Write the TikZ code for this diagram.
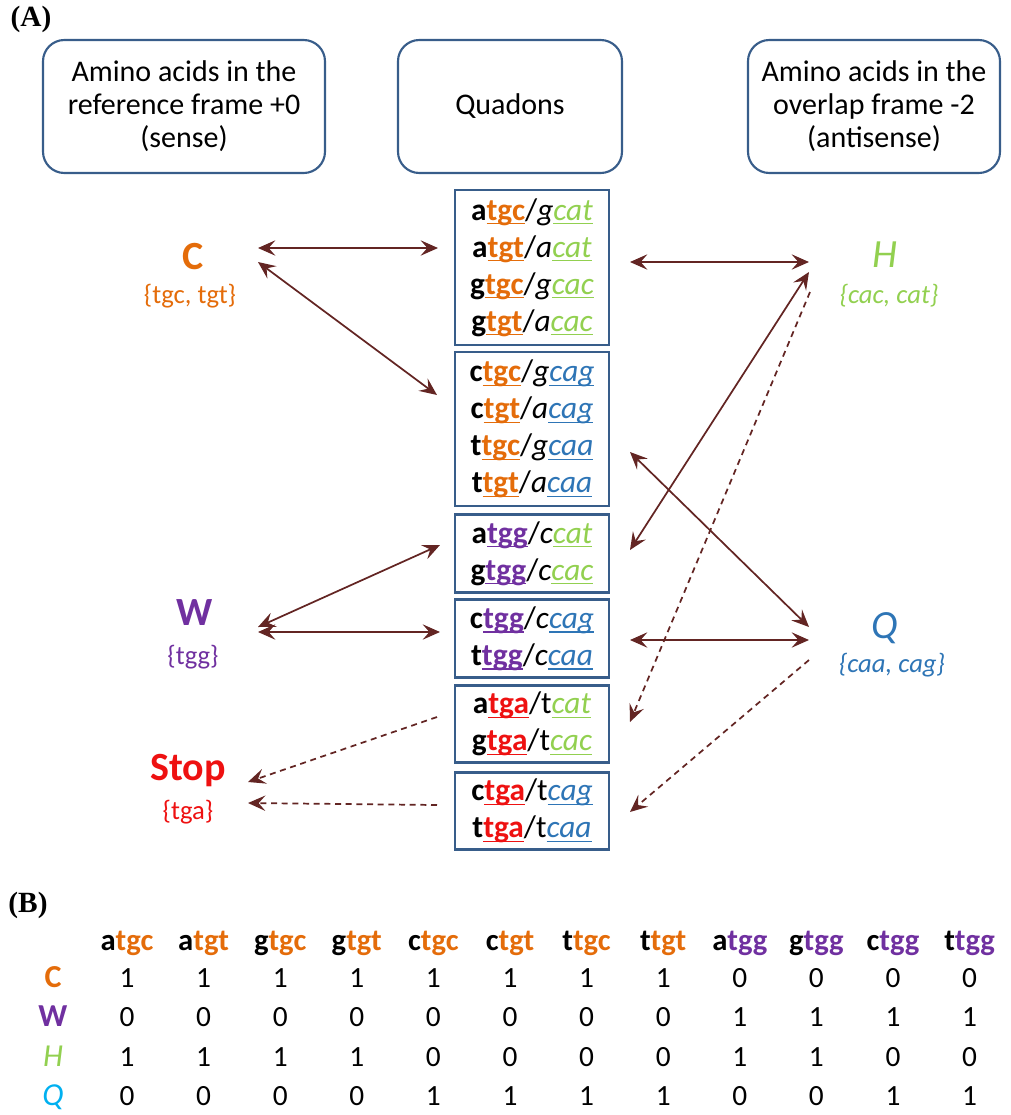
\documentclass[tikz,border=0pt]{standalone}
\usepackage{fontspec}
\setmainfont{Carlito}
\newfontfamily\panelfont{Liberation Serif}
\usetikzlibrary{arrows.meta}

\definecolor{orng}{HTML}{E46C0A}
\definecolor{grn}{HTML}{92D050}
\definecolor{blu}{HTML}{2E75B6}
\definecolor{cyn}{HTML}{00B0F0}
\definecolor{prpl}{HTML}{7030A0}
\definecolor{stopred}{HTML}{EE1111}
\definecolor{edgeblue}{HTML}{385D8A}
\definecolor{maroon}{HTML}{632523}

% coloured underline
\newcommand{\qul}[2]{{\color{#1}\setbox0\hbox{#2}\rlap{\rule[-3.2pt]{\wd0}{1.1pt}}\box0}}
% one quadon line: first base, sense codon, colour, antisense base, codon, colour
\newcommand{\quadon}[6]{\textbf{#1}\qul{#3}{\textbf{#2}}/\textit{#4}\qul{#6}{\textit{#5}}}

\begin{document}
\begin{tikzpicture}[x=0.75pt,y=-0.75pt,
                    >={Stealth[length=13pt,width=11.5pt,inset=5pt]},
  topbox/.style={draw=edgeblue,line width=1.6pt,rounded corners=16pt,
                 minimum height=99.75pt,align=center,
                 font=\fontsize{22.5}{24.75}\selectfont},
  quad/.style={draw=edgeblue,line width=2.2pt,minimum width=115.5pt,
               align=center,font=\fontsize{23.5}{27.75}\selectfont},
  aa/.style={inner sep=0pt,font=\fontsize{30}{32}\selectfont},
  aaset/.style={inner sep=0pt,font=\fontsize{20}{22}\selectfont},
  link/.style={<->,draw=maroon,line width=1.3pt},
  weak/.style={->,draw=maroon,line width=1.3pt,dash pattern=on 4.5pt off 3.5pt},
  cell/.style={inner sep=0pt,anchor=base,font=\fontsize{22}{24}\selectfont},
  panel/.style={inner sep=0pt,font=\panelfont\bfseries\fontsize{22}{24}\selectfont}]

  \useasboundingbox (0,0) rectangle (1011,1115);

  % (A)
  \node[panel] (pA) at (31,19) {(A)};

  \node[topbox,minimum width=211.5pt] (sense) at (184,106.5)
       {Amino acids in the\\reference frame +0\\(sense)};
  \node[topbox,minimum width=168pt]   (quads) at (510,106.5) {Quadons};
  \node[topbox,minimum width=189pt]   (anti)  at (874,106.5)
       {Amino acids in the\\overlap frame -2\\(antisense)};

  \node[quad,minimum height=116.25pt] (b1) at (532,267.5)
       {\quadon{a}{tgc}{orng}{g}{cat}{grn}\\\quadon{a}{tgt}{orng}{a}{cat}{grn}\\
        \quadon{g}{tgc}{orng}{g}{cac}{grn}\\\quadon{g}{tgt}{orng}{a}{cac}{grn}};
  \node[quad,minimum height=115.5pt]  (b2) at (532,429)
       {\quadon{c}{tgc}{orng}{g}{cag}{blu}\\\quadon{c}{tgt}{orng}{a}{cag}{blu}\\
        \quadon{t}{tgc}{orng}{g}{caa}{blu}\\\quadon{t}{tgt}{orng}{a}{caa}{blu}};
  \node[quad,minimum height=58pt] (b3) at (532,553.5)
       {\quadon{a}{tgg}{prpl}{c}{cat}{grn}\\\quadon{g}{tgg}{prpl}{c}{cac}{grn}};
  \node[quad,minimum height=58pt] (b4) at (532,638.5)
       {\quadon{c}{tgg}{prpl}{c}{cag}{blu}\\\quadon{t}{tgg}{prpl}{c}{caa}{blu}};
  \node[quad,minimum height=58pt] (b5) at (532,724)
       {\quadon{a}{tga}{stopred}{\upshape t}{cat}{grn}\\\quadon{g}{tga}{stopred}{\upshape t}{cac}{grn}};
  \node[quad,minimum height=58pt] (b6) at (532,811)
       {\quadon{c}{tga}{stopred}{\upshape t}{cag}{blu}\\\quadon{t}{tga}{stopred}{\upshape t}{caa}{blu}};

  % amino acids
  \node[aa,text=orng]    (C)    at (193,257) {\textbf{C}};
  \node[aaset,text=orng] (Cset) at (190,296) {\{tgc, tgt\}};
  \node[aa,text=prpl]    (W)    at (195,613) {\textbf{W}};
  \node[aaset,text=prpl] (Wset) at (193,657) {\{tgg\}};
  \node[aa,text=stopred] (Stop) at (188,771) {\textbf{Stop}};
  \node[aaset,text=stopred] (Sset) at (188,812) {\{tga\}};
  \node[aa,text=grn]     (H)    at (885,255) {\textit{H}};
  \node[aaset,text=grn]  (Hset) at (889,296) {\textit{\{cac, cat\}}};
  \node[aa,text=blu]     (Q)    at (885,628) {\textit{Q}};
  \node[aaset,text=blu]  (Qset) at (892,665) {\textit{\{caa, cag\}}};

  % arrow ends
  \coordinate (Cr1) at (258,248);  \coordinate (b1l) at (438,248);
  \coordinate (Cr2) at (258,262);  \coordinate (b2l) at (437,395);
  \coordinate (b1r) at (630,262);  \coordinate (Hl1) at (809,262);
  \coordinate (Hl2) at (809,272);  \coordinate (b3r) at (630,550);
  \coordinate (Hl3) at (810,292);  \coordinate (b5r) at (630,722);
  \coordinate (b2r) at (630,452);  \coordinate (Ql1) at (809,627);
  \coordinate (b4r) at (630,640);  \coordinate (Ql2) at (809,640);
  \coordinate (Ql3) at (809,660);  \coordinate (b6r) at (630,812);
  \coordinate (Wr1) at (258,627);  \coordinate (b3l) at (440,545);
  \coordinate (Wr2) at (258,632);  \coordinate (b4l) at (440,632);
  \coordinate (b5l) at (437,717);  \coordinate (Sr1) at (248,782);
  \coordinate (b6l) at (437,805);  \coordinate (Sr2) at (248,803);

  \path
        (Cr1) edge [link] (b1l)
        (Cr2) edge [link] (b2l)
        (b1r) edge [link] (Hl1)
        (Hl2) edge [link] (b3r)
        (Hl3) edge [weak] (b5r)
        (b2r) edge [link] (Ql1)
        (b4r) edge [link] (Ql2)
        (Ql3) edge [weak] (b6r)
        (Wr1) edge [link] (b3l)
        (Wr2) edge [link] (b4l)
        (b5l) edge [weak] (Sr1)
        (b6l) edge [weak] (Sr2)
  ;

  % (B)
  \node[panel] (pB) at (28,905) {(B)};

  \foreach \f/\c/\k [count=\i from 0] in {a/tgc/orng,a/tgt/orng,g/tgc/orng,g/tgt/orng,
      c/tgc/orng,c/tgt/orng,t/tgc/orng,t/tgt/orng,a/tgg/prpl,g/tgg/prpl,c/tgg/prpl,t/tgg/prpl}
    \node[cell,font=\bfseries\fontsize{23}{24}\selectfont] (h\i) at (127+76.6*\i,950)
         {\f\textcolor{\k}{\c}};

  \node[cell,text=orng,font=\fontsize{24}{24}\selectfont] (rC) at (53,987)  {\textbf{C}};
  \node[cell,text=prpl,font=\fontsize{24}{24}\selectfont] (rW) at (53,1026) {\textbf{W}};
  \node[cell,text=grn,font=\fontsize{24}{24}\selectfont]  (rH) at (53,1066) {\textit{H}};
  \node[cell,text=cyn,font=\fontsize{24}{24}\selectfont]  (rQ) at (53,1105) {\textit{Q}};

  \foreach \v [count=\i from 0] in {1,1,1,1,1,1,1,1,0,0,0,0}
    \node[cell] (c\i) at (127+76.6*\i,987) {\v};
  \foreach \v [count=\i from 0] in {0,0,0,0,0,0,0,0,1,1,1,1}
    \node[cell] (w\i) at (127+76.6*\i,1026) {\v};
  \foreach \v [count=\i from 0] in {1,1,1,1,0,0,0,0,1,1,0,0}
    \node[cell] (h\i) at (127+76.6*\i,1066) {\v};
  \foreach \v [count=\i from 0] in {0,0,0,0,1,1,1,1,0,0,1,1}
    \node[cell] (q\i) at (127+76.6*\i,1105) {\v};
\end{tikzpicture}
\end{document}
